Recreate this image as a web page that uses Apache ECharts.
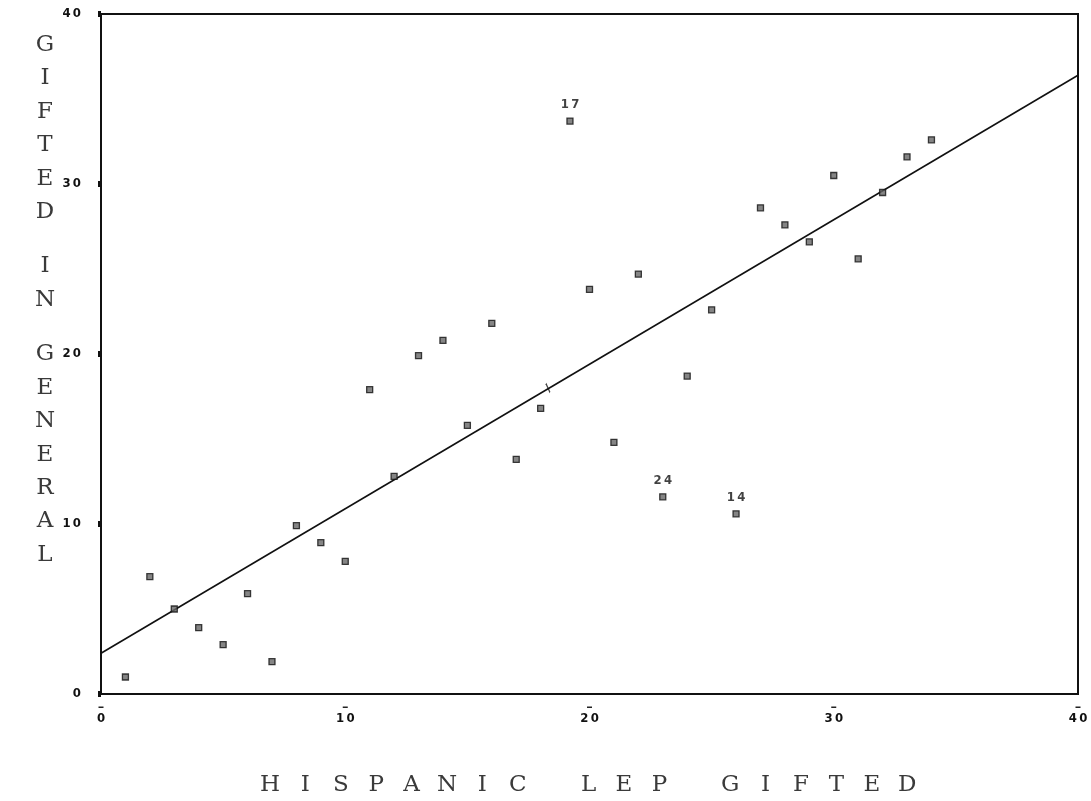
<!DOCTYPE html>
<html><head><meta charset="utf-8">
<script src="https://cdn.jsdelivr.net/npm/echarts@6/dist/echarts.min.js"></script>
<style>html,body{margin:0;padding:0;background:#fff}#c{width:1091px;height:801px}</style>
</head><body><div id="c"></div>
<script>
// Data
const xValues = [1,2,3,4,5,6,7,8,9,10,11,12,13,14,15,16,17,18,19.2,20,21,22,23,24,25,26,27,28,29,30,31,32,33,34];
const yValues = [1.0,6.9,5.0,3.9,2.9,5.9,1.9,9.9,8.9,7.8,17.9,12.8,19.9,20.8,15.8,21.8,13.8,16.8,33.7,23.8,14.8,24.7,11.6,18.7,22.6,10.6,28.6,27.6,26.6,30.5,25.6,29.5,31.6,32.6];
const pointLabels = ['','','','','','','','','','','','','','','','','','','17','','','','24','','','14','','','','','','','',''];
const fitLine = [[0, 2.4], [40, 36.4]];
const meanMark = [[18.3, 18.0]];
const xTicks = [0, 10, 20, 30, 40];
const yTicks = [0, 10, 20, 30, 40];
const xTitle = 'HISPANIC LEP GIFTED';
const yTitleWords = ['GIFTED', 'IN', 'GENERAL'];

const points = xValues.map((x, i) => ({ value: [x, yValues[i]], lab: pointLabels[i] }));

const chart = echarts.init(document.getElementById('c'), null, { renderer: 'canvas' });

const numFont = "'DejaVu Sans Condensed','Liberation Sans Narrow','DejaVu Sans',sans-serif";
const titleFont = "'DejaVu Serif','Liberation Serif',serif";
const titleStyle = (ch, x, y) => ({
  type: 'text', x: x, y: y, silent: true,
  style: { text: ch, font: '23px ' + titleFont, fill: '#3a3a3a', textAlign: 'center', textVerticalAlign: 'middle' }
});

// y title letters, one per line
const titleEls = [];
let yy = 45;
yTitleWords.forEach((w, wi) => {
  if (wi > 0) yy += 54.5 - 33.4;
  w.split('').forEach((ch, ci) => {
    if (ci > 0) yy += 33.4;
    titleEls.push(titleStyle(ch, 45, yy));
  });
  yy += 33.4;
});
// x title letters, spaced like the typewriter original
let xx = 270;
xTitle.split('').forEach((ch) => {
  if (ch !== ' ') titleEls.push(titleStyle(ch, xx, 785));
  xx += 35.4;
});

const option = {
  backgroundColor: '#fff',
  animation: false,
  grid: { left: 101, right: 13, top: 14, bottom: 107, show: true, borderColor: '#111', borderWidth: 2, backgroundColor: 'transparent' },
  xAxis: {
    type: 'value', min: xTicks[0], max: xTicks[xTicks.length - 1], interval: 10,
    splitLine: { show: false },
    axisLine: { show: true, lineStyle: { color: '#111', width: 2 } },
    axisTick: { show: false },
    axisLabel: {
      margin: 8, color: '#111',
      formatter: (v) => '{d|▬}\n{n|' + String(v).split('').join('\u2009') + '}',
      rich: {
        d: { fontSize: 5, lineHeight: 9, color: '#222', align: 'center' },
        n: { fontSize: 13, fontWeight: 'bold', fontFamily: numFont, lineHeight: 16, color: '#111', align: 'center' }
      }
    }
  },
  yAxis: {
    type: 'value', min: yTicks[0], max: yTicks[yTicks.length - 1], interval: 10,
    splitLine: { show: false },
    axisLine: { show: true, lineStyle: { color: '#111', width: 2 } },
    axisTick: { show: true, length: 3, lineStyle: { color: '#111', width: 6 } },
    axisLabel: {
      margin: 20, color: '#111', fontSize: 13, fontWeight: 'bold', fontFamily: numFont,
      formatter: (v) => String(v).split('').join('\u2009')
    }
  },
  graphic: titleEls,
  series: [
    {
      type: 'line', data: fitLine, showSymbol: false, symbol: 'none', silent: true,
      lineStyle: { color: '#111', width: 1.6 }, z: 2
    },
    {
      type: 'scatter', data: meanMark, symbol: 'path://M0,0 L3,8', symbolSize: [4, 9], silent: true,
      itemStyle: { color: 'none', borderColor: '#111', borderWidth: 1.5 }, z: 3
    },
    {
      type: 'scatter', data: points, symbol: 'rect', symbolSize: 6,
      itemStyle: { color: '#666', borderColor: '#111', borderWidth: 1.3 },
      label: {
        show: true, position: 'top', distance: 6,
        formatter: (p) => p.data.lab ? p.data.lab.split('').join('\u2009') : '',
        fontSize: 13, fontWeight: 'bold', fontFamily: numFont, color: '#111'
      },
      z: 4
    }
  ]
};
chart.setOption(option);
</script>
</body></html>
